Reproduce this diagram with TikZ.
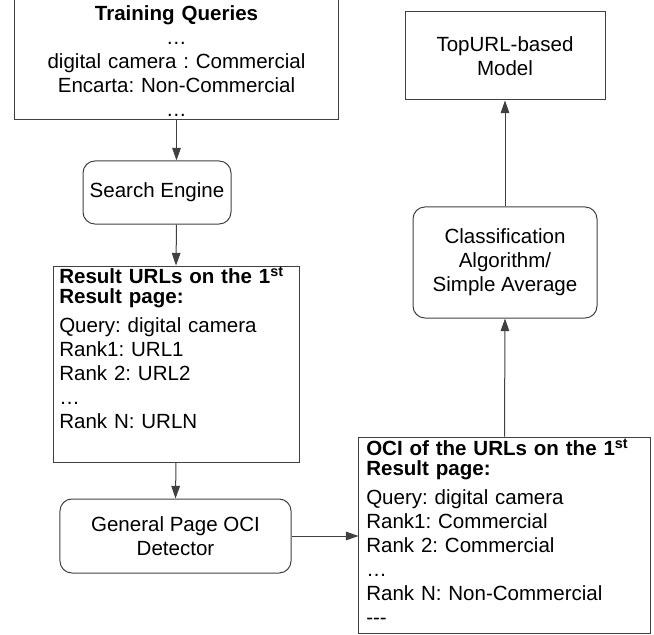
\documentclass[tikz,border=0pt]{standalone}
\usepackage{fontspec}
\setmainfont{Liberation Sans}
\usetikzlibrary{arrows.meta,positioning}
\frenchspacing

\tikzset{
  box/.style={draw=black!75, line width=0.75pt, rectangle, align=center},
  rbox/.style={box, rounded corners=9pt},
  txt/.style={inner sep=0pt},
  flow/.style={draw=black!75, line width=0.75pt, -{Triangle[length=9.5pt,width=6.5pt]}},
}

\begin{document}
\begin{tikzpicture}[x=0.75pt, y=-0.75pt, every node/.style={font=\fontsize{15.4}{18}\selectfont}]
    \useasboundingbox (0,0) rectangle (654,635);

    % Left column
    \node[box, minimum width=242.3pt, minimum height=92.3pt] (queries) at (176.5,57.5) {};
    \node[txt, text width=240pt, align=center, anchor=base] (querytext) at (176.5,21)
        {\textbf{Training Queries}\\ …\\ digital camera : Commercial\\ Encarta: Non-Commercial\\ …};
    \node[rbox, minimum width=111pt, minimum height=47.3pt] (engine) at (157,192.5) {Search Engine};
    \node[box, minimum width=184.5pt, minimum height=147pt] (results) at (176,364) {};
    \node[txt, text width=180pt, align=left, anchor=base west] (resulttext) at (59,283)
        {\textbf{Result URLs on the 1\textsuperscript{st}}\\[-3pt]
         \textbf{Result page:}\\[4pt]
         Query: digital camera\\ Rank1: URL1\\ Rank 2: URL2\\ …\\ Rank N: URLN};
    \node[rbox, minimum width=173.3pt, minimum height=55.5pt] (detector) at (175.5,536) {General Page OCI\\ Detector};

    % Right column
    \node[box, minimum width=218.3pt, minimum height=147pt] (oci) at (504.5,535) {};
    \node[txt, text width=214pt, align=left, anchor=base west] (ocitext) at (366,455)
        {\textbf{OCI of the URLs on the 1\textsuperscript{st}}\\[-3pt]
         \textbf{Result page:}\\[4pt]
         Query: digital camera\\ Rank1: Commercial\\ Rank 2: Commercial\\ …\\ Rank N: Non-Commercial\\ -{}-{}-};
    \node[rbox, minimum width=138pt, minimum height=83.3pt] (classify) at (505,262.5) {Classification\\ Algorithm/\\ Simple Average};
    \node[box, minimum width=150pt, minimum height=66pt] (model) at (505,56) {TopURL-based\\ Model};

    % Arrows
    \draw[flow] (queries.south) -- (queries.south |- engine.north);
    \draw[flow] (queries.south |- engine.south) -- (results.north);
    \draw[flow] (results.south) -- (detector.north);
    \draw[flow] (detector.east) -- (oci.west |- detector.east);
    \draw[flow] (oci.north) -- (classify.south);
    \draw[flow] (classify.north) -- (model.south);
\end{tikzpicture}
\end{document}
